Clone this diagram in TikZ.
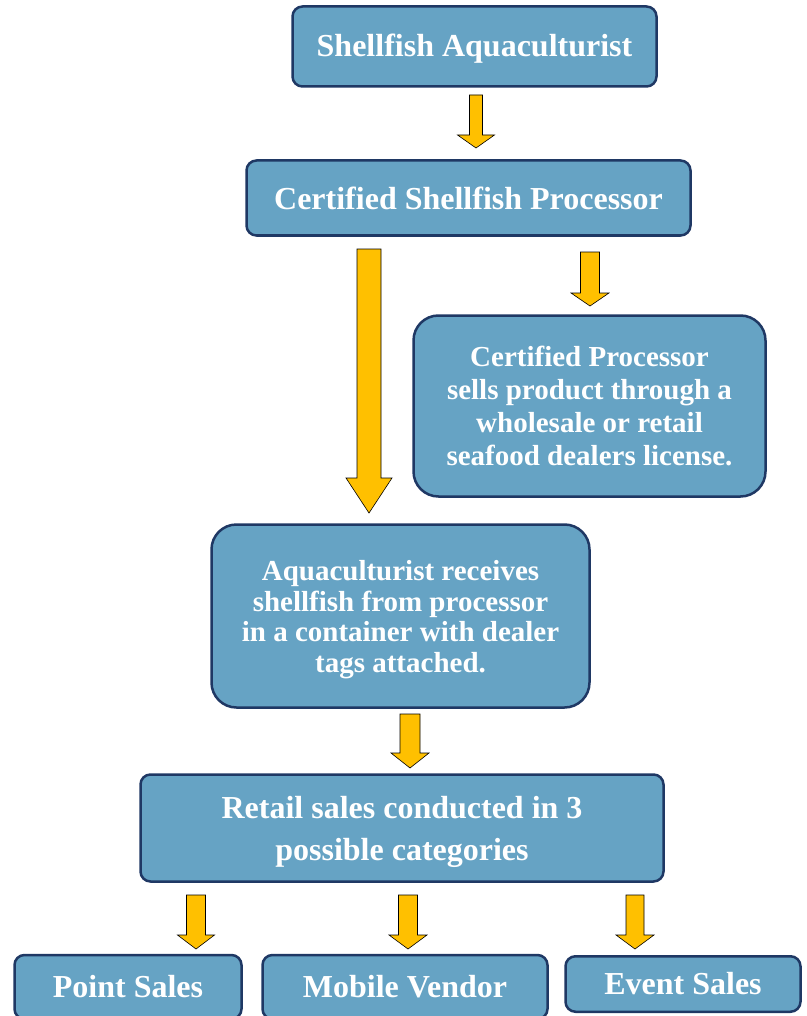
\documentclass[tikz,border=0pt]{standalone}
\usepackage{fontspec}
\setmainfont{Liberation Serif}
\definecolor{boxfill}{HTML}{66A3C4}
\definecolor{boxline}{HTML}{1F3864}
\definecolor{arrfill}{HTML}{FFC000}
\tikzset{
  box/.style={draw=boxline, line width=2.5pt, fill=boxfill, text=white,
    font=\bfseries\fontsize{32}{42}\selectfont, align=center, inner sep=0pt,
    rounded corners=10pt},
  bigbox/.style={box, rounded corners=25pt},
  txt/.style={text=white, font=\bfseries\fontsize{32}{42}\selectfont, align=center, inner sep=0pt},
  arr/.style={draw=black, line width=0.6pt, fill=arrfill, line join=miter}
}
% #1 name, #2 cx, #3 top, #4 head start, #5 tip, #6 shaft half width, #7 head half width
\newcommand\blockarrow[7]{%
  \coordinate (#1s) at (#2,#3);
  \coordinate (#1e) at (#2,#5);
  \draw[arr] (#2-#6,#3) -- (#2+#6,#3) -- (#2+#6,#4) -- (#2+#7,#4) -- (#1e)
    -- (#2-#7,#4) -- (#2-#6,#4) -- cycle;}
\begin{document}
\begin{tikzpicture}[x=1pt,y=-1pt]
\useasboundingbox (0,0) rectangle (806,1016);
\fill[white] (0,0) rectangle (806,1016);

\node[box, minimum width=364pt, minimum height=80pt] (top) at (474.5,46.5) {};
\node[txt, yshift=-2.5pt] (toptext) at (top.center) {Shellfish Aquaculturist};
\node[box, minimum width=444pt, minimum height=75pt] (cert) at (468.5,198) {Certified Shellfish Processor};
\node[bigbox, minimum width=352pt, minimum height=181pt,
  font=\bfseries\fontsize{29}{33.3}\selectfont] (sell) at (589.5,406)
  {Certified Processor\\sells product through a\\wholesale or retail\\seafood dealers license.};
\node[bigbox, minimum width=378pt, minimum height=183pt] (recv) at (400.5,616) {};
\node[txt, yshift=-3.5pt, font=\bfseries\fontsize{29}{30.7}\selectfont] (recvtext) at (recv.center)
  {Aquaculturist receives\\shellfish from processor\\in a container with dealer\\tags attached.};
\node[box, minimum width=523pt, minimum height=107pt] (retail) at (402,828) {};
\node[txt, yshift=-4pt] (retailtext) at (retail.center)
  {Retail sales conducted in 3\\possible categories};
\node[box, minimum width=227pt, minimum height=64pt] (point) at (128,987) {Point Sales};
\node[box, minimum width=285pt, minimum height=64pt] (mobile) at (405,987) {Mobile Vendor};
\node[box, minimum width=235pt, minimum height=55.5pt] (event) at (683,984) {Event Sales};

\blockarrow{a1}{476}{95}{135}{148}{6.5}{18.5}
\blockarrow{a2}{369}{249}{478}{513}{12}{23}
\blockarrow{a3}{590}{252}{293}{306}{9.5}{19}
\blockarrow{a4}{410}{714}{753}{768}{10}{19}
\blockarrow{a5}{196}{895}{935}{949}{9.5}{18.5}
\blockarrow{a6}{408}{895}{935}{949}{9.5}{19}
\blockarrow{a7}{635}{895}{935}{949}{9}{19}
\end{tikzpicture}
\end{document}
